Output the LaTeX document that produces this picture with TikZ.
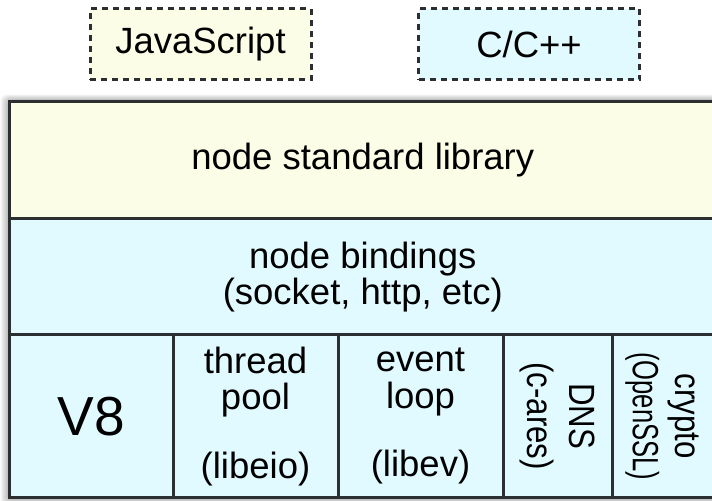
\documentclass[tikz,border=0pt]{standalone}
\usepackage{fontspec}
\setmainfont{Liberation Sans}
\definecolor{jsyellow}{RGB}{251,253,231}
\definecolor{cccyan}{RGB}{225,250,255}
\definecolor{edgegray}{RGB}{44,47,50}
\begin{document}
\begin{tikzpicture}[x=0.5pt,y=-0.5pt,
  legendbox/.style={draw=edgegray, line width=1.5pt, dash pattern=on 3pt off 2.5pt,
    minimum width=110.5pt, minimum height=35.5pt, inner sep=0pt,
    font=\fontsize{18.25}{17.5}\selectfont},
  cell/.style={draw=edgegray, line width=1.5pt, inner sep=0pt, align=center,
    font=\fontsize{18.25}{18.25}\selectfont},
  rottext/.style={align=center, inner sep=0pt, font=\fontsize{15.6}{18}\selectfont,
    rotate=-90, yscale=1.17}]
\useasboundingbox (0,0) rectangle (712,501);
\clip (0,0) rectangle (712,501);
\fill[white] (0,0) rectangle (712,501);
% shadow
\foreach \i in {1,...,9}
  \fill[black, opacity=0.035, rounded corners=3pt]
    ({9.5-\i},{101.5-0.75*\i}) rectangle ({720+\i},{497.5+\i});
% legend
\node[legendbox, fill=jsyellow] (js) at (200.5,44.5) {JavaScript};
\node[legendbox, fill=cccyan] (cc) at (529,44.5) {C/C++};
% main stack
\node[cell, fill=jsyellow, minimum width=353.25pt, minimum height=58.75pt]
  (stdlib) at (362.75,160.25) {node standard library};
\node[cell, fill=cccyan, minimum width=353.25pt, minimum height=58pt]
  (bind) at (362.75,277) {node bindings\\(socket, http, etc)};
\node[cell, fill=cccyan, minimum width=81.75pt, minimum height=81.25pt,
  font=\fontsize{27.5}{30}\selectfont]
  (v8) at (91.25,416.25) {V8};
\node[cell, fill=cccyan, minimum width=82.5pt, minimum height=81.25pt]
  (pool) at (255.5,416.25) {thread\\pool\\[16pt](libeio)};
\node[cell, fill=cccyan, minimum width=82.5pt, minimum height=81.25pt]
  (loop) at (420.5,416.25) {event\\loop\\[16pt](libev)};
\node[cell, fill=cccyan, minimum width=54.5pt, minimum height=81.25pt]
  (dns) at (557.5,416.25) {};
\node[cell, fill=cccyan, minimum width=52pt, minimum height=81.25pt]
  (crypto) at (664,416.25) {};
\node[rottext] (dnstext) at (dns.center) {DNS\\(c-ares)};
\node[rottext] (cryptotext) at ([xshift=-1pt]crypto.center)
  {crypto\\\scalebox{0.82}[1]{(OpenSSL)}};
\end{tikzpicture}
\end{document}
